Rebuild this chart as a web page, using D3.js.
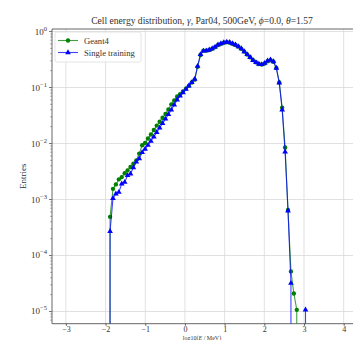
<!DOCTYPE html>
<html>
<head>
<meta charset="utf-8">
<script src="https://cdn.jsdelivr.net/npm/d3@7"></script>
<style>
  body { margin: 0; background: #fff; }
  svg { display: block; font-family: "Liberation Serif", "DejaVu Serif", serif; }
</style>
</head>
<body>
<svg id="chart" width="353" height="340"></svg>
<script>

// bin centres, log10(E / MeV)
const binCentres = [
  -1.960, -1.887, -1.813, -1.740, -1.666, -1.593, -1.518, -1.446, -1.372, -1.299,
  -1.225, -1.152, -1.078, -1.005, -0.931, -0.858, -0.784, -0.711, -0.637, -0.564,
  -0.490, -0.417, -0.343, -0.270, -0.196, -0.123, -0.049, 0.025, 0.098, 0.172,
  0.245, 0.319, 0.392, 0.466, 0.539, 0.613, 0.686, 0.760, 0.833, 0.907,
  0.980, 1.054, 1.127, 1.201, 1.274, 1.348, 1.421, 1.495, 1.568, 1.642,
  1.715, 1.789, 1.862, 1.936, 2.009, 2.083, 2.156, 2.230, 2.303, 2.377,
  2.450, 2.524, 2.597, 2.671, 2.744, 2.818, 2.891, 2.965, 3.038, 3.112
];

const geant4 = [
  0, 4.9e-4, 1.55e-3, 1.86e-3, 2.29e-3, 2.51e-3, 2.95e-3, 3.31e-3, 3.80e-3, 4.37e-3,
  5.01e-3, 6.61e-3, 9.3e-3, 1.02e-2, 1.23e-2, 1.45e-2, 1.74e-2, 2.09e-2, 2.45e-2, 2.88e-2,
  3.39e-2, 4.07e-2, 5.01e-2, 5.89e-2, 6.92e-2, 7.59e-2, 8.51e-2, 9.55e-2, 0.107, 0.123,
  0.138, 0.234, 0.380, 0.457, 0.457, 0.468, 0.490, 0.525, 0.575, 0.603,
  0.631, 0.646, 0.631, 0.603, 0.575, 0.537, 0.490, 0.437, 0.389, 0.347,
  0.309, 0.282, 0.263, 0.257, 0.269, 0.295, 0.309, 0.288, 0.224, 0.123,
  4.37e-2, 8.5e-3, 6.5e-4, 5.2e-5, 2.1e-5, 1.07e-5, 0, 0, 0, 0
];

const singleTraining = [
  0, 2.7e-4, 1.05e-3, 1.26e-3, 1.35e-3, 1.91e-3, 2.04e-3, 2.69e-3, 2.88e-3, 3.72e-3,
  4.68e-3, 5.37e-3, 6.92e-3, 7.94e-3, 9.33e-3, 1.10e-2, 1.32e-2, 1.58e-2, 1.91e-2, 2.29e-2,
  2.75e-2, 3.31e-2, 3.98e-2, 4.90e-2, 6.03e-2, 7.08e-2, 8.13e-2, 9.33e-2, 0.107, 0.123,
  0.141, 0.240, 0.390, 0.450, 0.455, 0.470, 0.495, 0.530, 0.580, 0.610,
  0.635, 0.650, 0.640, 0.610, 0.580, 0.540, 0.495, 0.440, 0.390, 0.345,
  0.305, 0.280, 0.262, 0.258, 0.272, 0.300, 0.312, 0.290, 0.222, 0.121,
  0.040, 7.1e-3, 6.3e-4, 3.2e-5, 0, 0, 0, 0, 1.07e-5, 0
];

const xTicks = [-3, -2, -1, 0, 1, 2, 3, 4];
const yDecades = [0, -1, -2, -3, -4, -5];

const series = [
  { name: "Geant4", values: geant4, color: "#008000", marker: d3.symbolCircle, size: 15 },
  { name: "Single training", values: singleTraining, color: "#0000ff", marker: d3.symbolTriangle, size: 14 }
];

const plot = { left: 52, right: 354, top: 29, bottom: 323.7 };

const svg =
  d3.select("#chart");

const x =
  d3.scaleLinear()
    .domain([-3.35, 4.26])
    .range([plot.left, plot.right]);

const y =
  d3.scaleLog()
    .domain([Math.pow(10, -5.218), Math.pow(10, 0.045)])
    .range([plot.bottom, plot.top]);

// zero bins are clipped far below, as matplotlib does on a log axis
const yVal = v => v > 0 ? y(v) : y(1e-200);

svg.append("defs")
  .append("clipPath")
  .attr("id", "plotClip")
  .append("rect")
  .attr("x", plot.left)
  .attr("y", plot.top)
  .attr("width", plot.right - plot.left)
  .attr("height", plot.bottom - plot.top);

// grid
const grid =
  svg.append("g")
    .attr("stroke", "#d9d9d9")
    .attr("stroke-width", 0.8);

grid.selectAll(".vgrid")
  .data(xTicks)
  .enter()
  .append("line")
  .attr("x1", d => x(d))
  .attr("x2", d => x(d))
  .attr("y1", plot.top)
  .attr("y2", plot.bottom);

grid.selectAll(".hgrid")
  .data(yDecades)
  .enter()
  .append("line")
  .attr("x1", plot.left)
  .attr("x2", plot.right)
  .attr("y1", d => y(Math.pow(10, d)))
  .attr("y2", d => y(Math.pow(10, d)));

// series
const lineGen =
  d3.line()
    .x((d, i) => x(binCentres[i]))
    .y(d => yVal(d));

const dataLayer =
  svg.append("g")
    .attr("clip-path", "url(#plotClip)");

series.forEach(s => {

  dataLayer.append("path")
    .attr("d", lineGen(s.values))
    .attr("fill", "none")
    .attr("stroke", s.color)
    .attr("stroke-opacity", 0.75)
    .attr("stroke-width", 1.1);

  dataLayer.selectAll(null)
    .data(s.values.map((v, i) => [binCentres[i], v]).filter(p => p[1] > 0))
    .enter()
    .append("path")
    .attr("d", d3.symbol().type(s.marker).size(s.size))
    .attr("transform", d => `translate(${x(d[0])},${y(d[1])})`)
    .attr("fill", s.color);

});

// spines
const spine =
  svg.append("g")
    .attr("stroke", "#555")
    .attr("stroke-width", 0.9)
    .attr("fill", "none");

spine.append("line")
  .attr("x1", plot.left).attr("x2", plot.left)
  .attr("y1", plot.top).attr("y2", plot.bottom);

spine.append("line")
  .attr("x1", plot.left).attr("x2", plot.right)
  .attr("y1", plot.bottom).attr("y2", plot.bottom);

spine.append("line")
  .attr("x1", plot.left).attr("x2", plot.right)
  .attr("y1", plot.top).attr("y2", plot.top);

// x axis
const xAxis =
  svg.append("g")
    .attr("transform", `translate(0,${plot.bottom})`)
    .call(
      d3.axisBottom(x)
        .tickValues(xTicks)
        .tickSize(2)
        .tickPadding(0.5)
        .tickFormat(d => d < 0 ? "\u2212" + Math.abs(d) : d)
    );

xAxis.select(".domain").remove();
xAxis.selectAll("line").attr("stroke", "#555");
xAxis.selectAll("text")
  .attr("fill", "#333")
  .style("font-family", "Liberation Serif, DejaVu Serif, serif")
  .style("font-size", "8px");

// y axis, major and minor ticks
const minorTicks = [];
for (let e = -6; e <= 0; e++) {
  for (let m = 2; m <= 9; m++) {
    const v = m * Math.pow(10, e);
    if (y(v) >= plot.top && y(v) <= plot.bottom) minorTicks.push(v);
  }
}

svg.append("g")
  .selectAll("line")
  .data(minorTicks)
  .enter()
  .append("line")
  .attr("x1", plot.left - 1.8)
  .attr("x2", plot.left)
  .attr("y1", d => y(d))
  .attr("y2", d => y(d))
  .attr("stroke", "#666")
  .attr("stroke-width", 0.6);

const yTick =
  svg.append("g")
    .selectAll("g")
    .data(yDecades)
    .enter()
    .append("g")
    .attr("transform", d => `translate(${plot.left},${y(Math.pow(10, d))})`);

yTick.append("line")
  .attr("x1", -3)
  .attr("x2", 0)
  .attr("stroke", "#555")
  .attr("stroke-width", 0.8);

const yLabel =
  yTick.append("text")
    .attr("x", -5)
    .attr("y", 3)
    .attr("text-anchor", "end")
    .attr("fill", "#333")
    .style("font-size", "9px");

yLabel.append("tspan")
  .text("10");

yLabel.append("tspan")
  .attr("dy", -4)
  .style("font-size", "6.5px")
  .text(d => d === 0 ? "0" : "\u2212" + Math.abs(d));

// title
const title =
  svg.append("text")
    .attr("x", (plot.left + 352) / 2)
    .attr("y", 24)
    .attr("text-anchor", "middle")
    .attr("fill", "#333")
    .style("font-size", "9.6px");

[
  ["Cell energy distribution, ", false],
  ["\u03b3", true],
  [", Par04, 500GeV, ", false],
  ["\u03d5", true],
  ["=0.0, ", false],
  ["\u03b8", true],
  ["=1.57", false]
].forEach(([t, it]) => {
  title.append("tspan")
    .style("font-style", it ? "italic" : "normal")
    .text(t);
});

// axis labels
svg.append("text")
  .attr("transform", `translate(26,${(plot.top + plot.bottom) / 2}) rotate(-90)`)
  .attr("text-anchor", "middle")
  .attr("fill", "#333")
  .style("font-size", "9px")
  .text("Entries");

const xLabel =
  svg.append("text")
    .attr("x", (plot.left + 352) / 2)
    .attr("y", 339.6)
    .attr("text-anchor", "middle")
    .attr("fill", "#333")
    .style("font-size", "6px");

xLabel.append("tspan").text("log10(");
xLabel.append("tspan").style("font-style", "italic").text("E");
xLabel.append("tspan").text(" / MeV)");

// legend
const legend =
  svg.append("g")
    .attr("transform", "translate(55,32)");

legend.append("rect")
  .attr("width", 86)
  .attr("height", 30)
  .attr("rx", 2)
  .attr("fill", "#fff")
  .attr("fill-opacity", 0.85)
  .attr("stroke", "#ddd")
  .attr("stroke-width", 0.8);

series.forEach((s, i) => {

  const row =
    legend.append("g")
      .attr("transform", `translate(0,${8.5 + i * 12})`);

  row.append("line")
    .attr("x1", 3)
    .attr("x2", 23)
    .attr("stroke", s.color)
    .attr("stroke-opacity", 0.75)
    .attr("stroke-width", 1.1);

  row.append("path")
    .attr("d", d3.symbol().type(s.marker).size(s.size))
    .attr("transform", "translate(13,0)")
    .attr("fill", s.color);

  row.append("text")
    .attr("x", 29)
    .attr("y", 3)
    .attr("fill", "#333")
    .style("font-size", "8.6px")
    .text(s.name);

});

</script>
</body>
</html>
